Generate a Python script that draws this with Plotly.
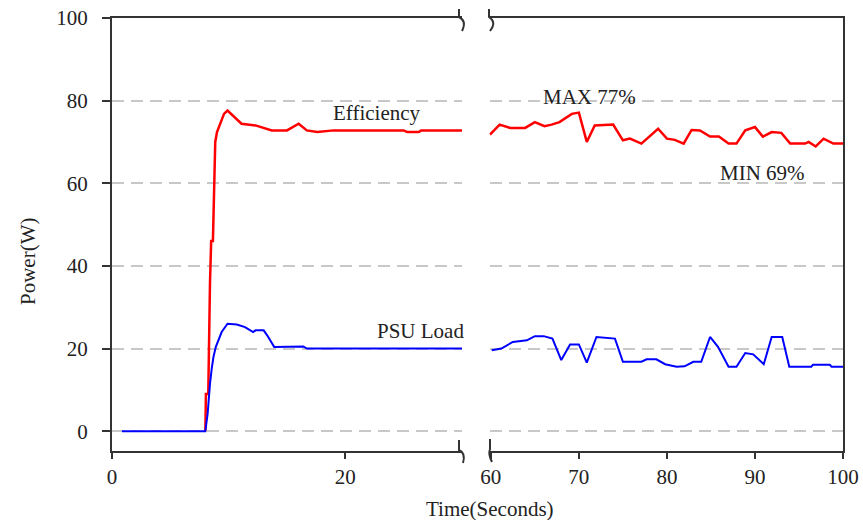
import plotly.graph_objects as go

# ---------------- data ----------------
eff_left_x = [8.0, 8.05, 8.25, 8.3, 8.4, 8.5, 8.65, 8.75, 8.85, 9.0, 9.3, 9.6, 9.9,
              11.1, 12.3, 13.0, 13.7, 15.0, 16.0, 16.7, 17.6, 19.0, 25.0, 25.3, 26.3, 26.5, 30]
eff_left_y = [0, 9, 9, 21, 36, 46, 46, 58, 70, 72.4, 74.4, 76.8, 77.6,
              74.4, 74.0, 73.4, 72.8, 72.8, 74.4, 72.8, 72.4, 72.8, 72.8, 72.4, 72.4, 72.8, 72.8]

load_left_x = [0.85, 8.0, 8.2, 8.3, 8.4, 8.55, 8.7, 8.9, 9.1, 9.4, 9.9, 10.7, 11.4, 12.1,
               12.3, 13.0, 13.3, 13.9, 16.4, 16.7, 30]
load_left_y = [0, 0, 4.3, 8.3, 11.5, 15.2, 18, 20.4, 22, 24, 26, 25.8, 25.2, 24,
               24.4, 24.4, 23.2, 20.4, 20.5, 20, 20]

eff_right_x = [59.9, 61.0, 62.2, 63.9, 65.0, 66.1, 66.9, 67.8, 69.2, 70.0, 70.9, 71.8, 73.9,
               75.0, 75.8, 77.1, 79.0, 80.0, 80.9, 81.9, 82.8, 83.75, 84.9, 85.9, 87.0, 87.9,
               88.9, 90.0, 90.9, 91.9, 93.0, 94.0, 95.7, 96.1, 96.9, 97.8, 98.9, 100]
eff_right_y = [71.8, 74.2, 73.4, 73.4, 74.8, 73.8, 74.2, 74.8, 76.8, 77.1, 70.0, 74.0, 74.2,
               70.4, 70.8, 69.6, 73.2, 70.8, 70.5, 69.6, 72.9, 72.8, 71.3, 71.3, 69.6, 69.6,
               72.8, 73.6, 71.3, 72.4, 72.2, 69.6, 69.6, 70.0, 68.9, 70.8, 69.6, 69.6]

load_right_x = [60.1, 61.2, 62.5, 64.1, 65.0, 66.0, 67.0, 68.0, 69.0, 70.0, 70.9, 72.0, 74.1,
                75.0, 77.1, 77.7, 78.8, 79.8, 81.1, 82.0, 83.0, 83.9, 84.9, 85.8, 87.0, 87.9,
                88.9, 89.8, 91.0, 91.9, 93.1, 93.9, 96.4, 96.6, 98.5, 98.7, 100]
load_right_y = [19.6, 20.0, 21.6, 22.0, 23.0, 23.0, 22.4, 17.2, 21.0, 21.0, 16.6, 22.8, 22.4,
                16.8, 16.8, 17.4, 17.4, 16.2, 15.6, 15.7, 16.8, 16.8, 22.8, 20.4, 15.6, 15.6,
                18.9, 18.6, 16.2, 22.8, 22.8, 15.6, 15.6, 16.1, 16.1, 15.6, 15.6]

y_ticks = [0, 20, 40, 60, 80, 100]
x_left_ticks = [0, 20]
x_right_ticks = [60, 70, 80, 90, 100]

# ---------------- styling ----------------
W, H = 863, 520
L, R, T, B = 112, 20, 18, 69
PW, PH = W - L - R, H - T - B
FONT = "Liberation Serif"
AX = "#333333"
GRID = "#c8c8c8"
RED = "#ff0000"
BLUE = "#0000ff"
TXT = "#222222"

def px(sx):
    return (sx - L) / PW

def py(sy):
    return (H - B - sy) / PH

fig = go.Figure()
fig.add_trace(go.Scatter(x=eff_left_x, y=eff_left_y, mode="lines",
                         line=dict(color=RED, width=2.5), xaxis="x", yaxis="y", showlegend=False))
fig.add_trace(go.Scatter(x=load_left_x, y=load_left_y, mode="lines",
                         line=dict(color=BLUE, width=2), xaxis="x", yaxis="y", showlegend=False))
fig.add_trace(go.Scatter(x=eff_right_x, y=eff_right_y, mode="lines",
                         line=dict(color=RED, width=2.5), xaxis="x2", yaxis="y2", showlegend=False))
fig.add_trace(go.Scatter(x=load_right_x, y=load_right_y, mode="lines",
                         line=dict(color=BLUE, width=2), xaxis="x2", yaxis="y2", showlegend=False))

yrange = [-4.8, 100]
tickfont = dict(family=FONT, size=21, color=TXT)

fig.update_layout(
    width=W, height=H,
    margin=dict(l=L, r=R, t=T, b=B, autoexpand=False),
    paper_bgcolor="white", plot_bgcolor="white",
    font=dict(family=FONT, size=21, color=TXT),
    xaxis=dict(domain=[0, px(462)], range=[0, 30], tickvals=x_left_ticks,
               showline=True, linecolor=AX, linewidth=2, mirror=True,
               ticks="outside", ticklen=6, tickwidth=2, tickcolor=AX,
               showgrid=False, zeroline=False, tickfont=tickfont, anchor="y",
               automargin=False, ticklabeloverflow="allow"),
    xaxis2=dict(domain=[px(489.5), 1], range=[59.85, 100], tickvals=x_right_ticks,
                showline=True, linecolor=AX, linewidth=2, mirror=True,
                ticks="outside", ticklen=6, tickwidth=2, tickcolor=AX,
                showgrid=False, zeroline=False, tickfont=tickfont, anchor="y2",
                automargin=False, ticklabeloverflow="allow"),
    yaxis=dict(domain=[0, 1], range=yrange, tickvals=y_ticks,
               showline=True, linecolor=AX, linewidth=2,
               ticks="outside", ticklen=8, tickwidth=2, tickcolor=AX,
               ticklabelstandoff=10, ticklabeloverflow="allow",
               showgrid=True, gridcolor=GRID, gridwidth=2, griddash="12px,7px",
               zeroline=False, tickfont=tickfont, anchor="x", automargin=False),
    yaxis2=dict(domain=[0, 1], range=yrange, tickvals=y_ticks, showticklabels=False,
                side="right", showline=True, linecolor=AX, linewidth=2,
                ticks="",
                showgrid=True, gridcolor=GRID, gridwidth=2, griddash="12px,7px",
                zeroline=False, anchor="x2", automargin=False),
)

annots = [
    dict(text="Efficiency", x=22.7, y=76.9, xref="x", yref="y"),
    dict(text="PSU Load", x=26.4, y=24.2, xref="x", yref="y"),
    dict(text="MAX 77%", x=71.25, y=80.8, xref="x2", yref="y2"),
    dict(text="MIN 69%", x=90.9, y=62.6, xref="x2", yref="y2"),
]
for a in annots:
    fig.add_annotation(**a, showarrow=False, xanchor="center", yanchor="middle",
                       font=dict(family=FONT, size=21, color=TXT))

fig.add_annotation(text="Time(Seconds)", x=px(490), y=py(509), xref="paper", yref="paper",
                   xanchor="center", yanchor="middle",
                   showarrow=False, font=dict(family=FONT, size=21, color=TXT))
fig.add_annotation(text="Power(W)", x=px(28), y=py(262), xref="paper", yref="paper",
                   xanchor="center", yanchor="middle",
                   showarrow=False, textangle=-90, font=dict(family=FONT, size=21, color=TXT))

# axis-break squiggles (decoration)
def squiggle(pts):
    d = "M {} {}".format(px(pts[0][0]), py(pts[0][1]))
    d += " L {} {}".format(px(pts[1][0]), py(pts[1][1]))
    d += " Q {} {} {} {}".format(px(pts[2][0]), py(pts[2][1]), px(pts[3][0]), py(pts[3][1]))
    return d

for pts in [
    [(459, 9), (459, 17), (467, 21), (462, 31)],
    [(489, 9), (489, 17), (497, 22), (490, 31)],
    [(459, 440), (459, 450), (466, 453), (463, 463)],
    [(490, 439), (490, 449), (488, 454), (492, 462)],
]:
    fig.add_shape(type="path", path=squiggle(pts), xref="paper", yref="paper",
                  line=dict(color=AX, width=2))

fig.write_html("out.html", config={"displayModeBar": False},
               post_script="document.body.style.margin='0';document.body.style.overflow='hidden';")
